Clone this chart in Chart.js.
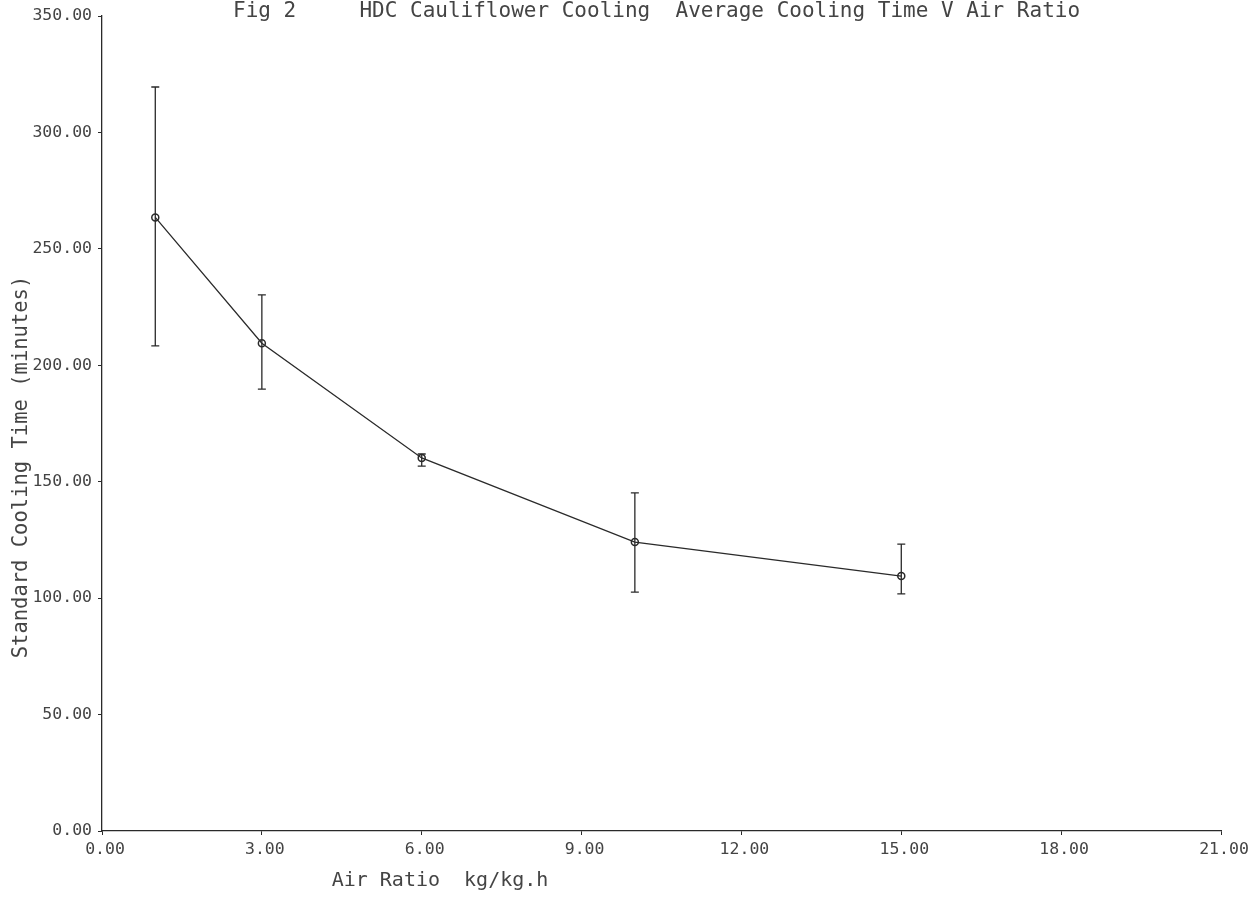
<!DOCTYPE html>
<html>
<head>
<meta charset="utf-8">
<script src="https://cdn.jsdelivr.net/npm/chart.js@4"></script>
<style>
  html, body { margin: 0; padding: 0; background: #fff; }
  #wrap { width: 1252px; height: 904px; }
</style>
</head>
<body>
<div id="wrap"><canvas id="chart" width="1252" height="904"></canvas></div>
<script>
// Данные с рисунка
const airRatio = [1, 3, 6, 10, 15];
const coolingTime = [263.5, 209.5, 160.2, 124.1, 109.5];
const errLow = [208.3, 189.8, 156.7, 102.6, 101.8];
const errHigh = [319.5, 230.2, 161.9, 145.2, 123.2];

const xTickStep = 3;
const yTickStep = 50;

const chartTitle = 'Fig 2     HDC Cauliflower Cooling  Average Cooling Time V Air Ratio';
const xTitle = 'Air Ratio  kg/kg.h';
const yTitle = 'Standard Cooling Time (minutes)';

const inkColor = '#2a2a2a';
const textColor = '#444';
const monoFont = '"DejaVu Sans Mono", "Liberation Mono", monospace';

// Планки погрешностей и подписи
const extrasPlugin = {
    id: 'extras',
    afterDatasetsDraw(chart) {
        const ctx = chart.ctx;
        const xs = chart.scales.x;
        const ys = chart.scales.y;
        ctx.save();
        ctx.strokeStyle = inkColor;
        ctx.lineWidth = 1.3;
        for (let i = 0; i < airRatio.length; i++) {
            const px = xs.getPixelForValue(airRatio[i]);
            const top = ys.getPixelForValue(errHigh[i]);
            const bot = ys.getPixelForValue(errLow[i]);
            ctx.beginPath();
            ctx.moveTo(px, top);
            ctx.lineTo(px, bot);
            ctx.moveTo(px - 4, top);
            ctx.lineTo(px + 4, top);
            ctx.moveTo(px - 4, bot);
            ctx.lineTo(px + 4, bot);
            ctx.stroke();
        }
        ctx.restore();
    },
    afterDraw(chart) {
        const ctx = chart.ctx;
        ctx.save();
        ctx.fillStyle = textColor;
        ctx.font = '21px ' + monoFont;
        ctx.textBaseline = 'middle';
        ctx.textAlign = 'left';
        ctx.fillText(chartTitle, 233, 12);

        ctx.font = '20px ' + monoFont;
        ctx.textAlign = 'center';
        ctx.fillText(xTitle, 440, 881);

        // Подпись оси Y
        ctx.translate(22, 467);
        ctx.rotate(-Math.PI / 2);
        ctx.font = '20.5px ' + monoFont;
        ctx.fillText(yTitle, 0, 0);
        ctx.restore();
    }
};

const ctx = document.getElementById('chart').getContext('2d');
new Chart(ctx, {
    type: 'line',
    data: {
        datasets: [{
            data: airRatio.map((x, i) => ({ x: x, y: coolingTime[i] })),
            borderColor: inkColor,
            borderWidth: 1.3,
            pointStyle: 'circle',
            pointRadius: 3.5,
            pointBorderWidth: 1.5,
            pointBorderColor: inkColor,
            pointBackgroundColor: 'rgba(255,255,255,0)',
            fill: false,
            tension: 0
        }]
    },
    options: {
        responsive: false,
        animation: false,
        layout: { padding: { top: 16, right: 31, left: 0, bottom: 0 } },
        plugins: {
            legend: { display: false },
            tooltip: { enabled: false }
        },
        scales: {
            x: {
                type: 'linear',
                min: 0, max: 21,
                afterFit: s => { s.height = 73; },
                border: { display: true, color: inkColor, width: 1.3 },
                grid: { drawOnChartArea: false, drawTicks: true, tickLength: 4, color: inkColor },
                ticks: {
                    stepSize: xTickStep,
                    color: textColor,
                    font: { family: monoFont, size: 16.5 },
                    padding: 5,
                    labelOffset: 3,
                    maxRotation: 0,
                    callback: v => Number(v).toFixed(2)
                }
            },
            y: {
                min: 0, max: 350,
                afterFit: s => { s.width = 102; },
                border: { display: true, color: inkColor, width: 1.3 },
                grid: { drawOnChartArea: false, drawTicks: true, tickLength: 4, color: inkColor },
                ticks: {
                    stepSize: yTickStep,
                    color: textColor,
                    font: { family: monoFont, size: 16.5 },
                    padding: 6,
                    callback: v => Number(v).toFixed(2)
                }
            }
        }
    },
    plugins: [extrasPlugin]
});
</script>
</body>
</html>
